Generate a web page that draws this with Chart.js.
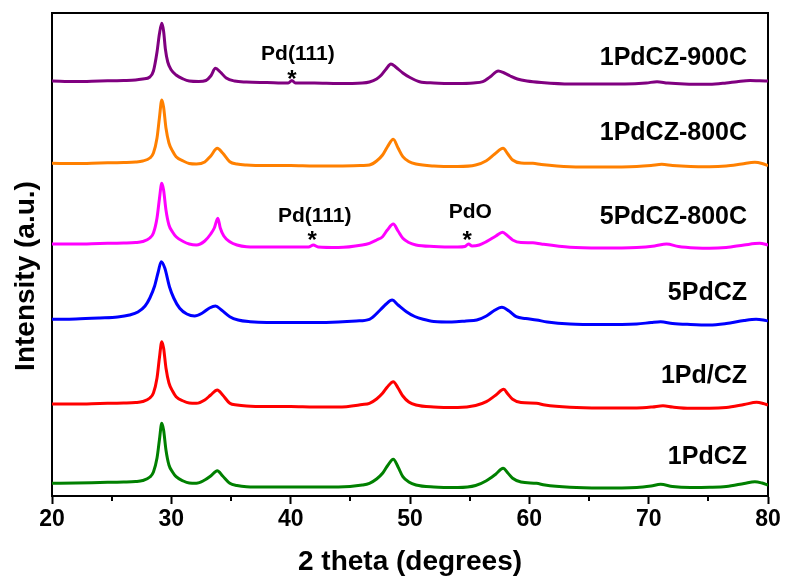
<!DOCTYPE html>
<html>
<head>
<meta charset="utf-8">
<script src="https://cdn.jsdelivr.net/npm/chart.js@4/dist/chart.umd.min.js"></script>
<style>
html,body{margin:0;padding:0;background:#fff;}
#wrap{width:785px;height:576px;position:relative;}
</style>
</head>
<body>
<div id="wrap"><canvas id="c" width="785" height="576"></canvas></div>
<script>
// ---- Data (2theta in degrees, intensity in arbitrary stacked units) ----
const xTicks = [20, 30, 40, 50, 60, 70, 80];
const xMinorTicks = [25, 35, 45, 55, 65, 75];
const sampleNames = ['1PdCZ-900C', '1PdCZ-800C', '5PdCZ-800C', '5PdCZ', '1Pd/CZ', '1PdCZ'];

const s1PdCZ900C = [[20,415],[22,414.5],[24,415],[26,415.5],[27,416],[27.6,417],[28.2,419],[28.5,425],[28.8,444],[29.0,462],[29.2,472.7],[29.35,465],[29.5,447],[29.7,434],[30.0,426],[30.4,421],[31.0,417],[31.5,415],[32.3,414.5],[32.9,415.5],[33.3,420],[33.7,427.7],[34.1,424],[34.6,418],[35.3,415],[36.3,414],[38,413.5],[39.8,413],[40.1,415.5],[40.4,413],[42,413],[44,412.5],[46,413],[46.6,414],[47.2,417],[47.6,421],[48.0,427],[48.4,432],[48.8,429],[49.4,423],[50.0,418.5],[50.8,414.3],[52,413],[54,412.5],[55.3,413],[56.1,414.3],[56.7,419],[57.4,425],[57.9,423],[58.4,420],[59.0,417],[59.8,415],[61,413.5],[63.4,412],[66,412],[68,412],[69.8,413],[70.7,414.3],[71.6,413],[73,412],[75.1,411.7],[76.5,413],[77.4,414.3],[78.5,415.5],[79.3,415.2],[80,415]];

const s1PdCZ800C = [[20,332.7],[22,332.5],[24,333],[26,333.5],[27,334],[27.6,335],[28.2,338],[28.5,343],[28.8,358],[29.0,378],[29.2,396],[29.35,389],[29.55,368],[29.8,353],[30.1,345],[30.4,339.3],[31,335],[31.5,332.5],[32.1,332],[32.8,334],[33.3,340],[33.85,347.7],[34.3,343],[34.9,334.3],[35.5,332],[36.3,331],[38,330.5],[40,330.5],[42,330],[44,330],[46,330.5],[46.6,331],[47.2,335],[47.7,341],[48.1,349],[48.6,356.7],[49,348],[49.4,339.3],[49.9,334.5],[50.5,332],[52,330],[54,329.5],[55.5,331],[56.4,335.3],[57.1,342],[57.8,347.7],[58.2,342],[58.6,336],[59.3,333],[60.3,332.7],[61,331.5],[63.4,329.3],[66,329],[69,329.5],[70.2,330.5],[71.1,331.7],[72,330.5],[73.5,329.5],[75.1,329.3],[76.5,330],[77.8,332],[78.9,333.7],[79.5,332.5],[80,330.3]];

const s5PdCZ800C = [[20,252],[22,252],[24,252.5],[26,253],[27,253.5],[27.6,254.5],[28.2,258],[28.5,263],[28.8,278],[29.0,297],[29.2,312.7],[29.35,306],[29.55,286],[29.8,271],[30.1,264],[30.4,259.3],[31,254.5],[31.5,252],[32.1,251],[32.8,255],[33.3,262],[33.6,268],[33.9,277.7],[34.1,268],[34.4,260],[34.9,254.3],[35.5,251],[36.3,249.3],[38,249],[40,249],[41.5,249],[41.9,251],[42.3,249],[44,248.5],[46,251],[46.6,252.7],[47.2,256],[47.7,259.3],[48.1,266],[48.6,272],[49.0,265],[49.4,257.7],[49.9,253.5],[50.5,251],[52,249.5],[54,249],[54.6,249.5],[54.9,252],[55.2,250],[55.8,251],[56.4,254.3],[57.2,260],[57.75,263.7],[58.2,260],[58.6,256],[59.3,253.5],[60.3,253.3],[61,252],[63.4,248.7],[66,248],[69,248.5],[70.5,250],[71.5,252],[72.5,249.5],[74,248],[75.1,247.7],[76.5,248.5],[78,251],[79.3,252.7],[80,251]];

const s5PdCZ = [[20,176.7],[22,177],[24,178],[25.5,179],[26.5,181],[27.2,184],[27.8,190],[28.2,198],[28.6,210],[28.9,224],[29.15,234.3],[29.45,228],[29.85,209],[30.2,198],[30.7,187.7],[31.3,182],[31.95,180],[32.6,183],[33.2,188],[33.7,190],[34.2,186],[34.9,179.3],[35.6,176],[36.6,174.3],[38,173.5],[40,173.5],[42,173.5],[44,174],[45.5,175],[46.6,176.7],[47.5,186],[48.0,192],[48.5,196],[49.0,191],[49.7,184.3],[50.4,179.5],[51.1,176.7],[52,174.5],[53.5,174],[54.7,175],[55.6,176],[56.4,180],[57.0,185],[57.7,188.7],[58.3,185],[58.9,179.3],[59.7,177.5],[60.6,176],[61.5,174],[63.4,172],[66,171.5],[69,172],[70.2,173.5],[71,174.3],[72,172.5],[73.5,171.5],[75.1,171],[76.5,172.5],[78,175.5],[79,176.7],[79.6,176],[80,175]];

const s1PdSlashCZ = [[20,92],[22,92],[24,92.5],[26,93],[27,93.5],[27.6,94.5],[28.2,98],[28.5,103],[28.8,118],[29.0,138],[29.2,154.3],[29.35,148],[29.55,128],[29.8,113],[30.1,105],[30.4,99.3],[31,95],[31.5,93],[32.1,92.7],[32.8,96],[33.3,101],[33.85,106],[34.3,101],[34.9,92.7],[35.5,91],[36.3,90],[38,89.5],[40,89.5],[42,89],[44,89],[46,91.5],[46.6,92.7],[47.2,97],[47.7,102.7],[48.1,109],[48.6,114.3],[49,108],[49.4,100],[49.9,94],[50.5,91],[52,89],[54,88.5],[55.5,90.5],[56.4,94.3],[57.2,101],[57.85,106.7],[58.2,102],[58.6,96.7],[59.3,93.5],[60.6,92.7],[61.3,91],[63.4,88.7],[66,88],[69,88],[70.3,89],[71.2,90.3],[72,89],[73.5,87.7],[75.1,87.7],[76.5,88.5],[78,91.5],[79.05,93.7],[79.6,92.5],[80,91]];

const s1PdCZ = [[20,12.7],[22,13],[24,13.5],[26,14],[27,14.5],[27.6,15.5],[28.2,19],[28.5,24],[28.8,38],[29.0,56],[29.2,72.7],[29.35,66],[29.55,46],[29.8,31],[30.1,24],[30.4,19.3],[31,15],[31.5,13],[32.1,12.7],[32.8,16],[33.3,20],[33.85,25.3],[34.3,20],[34.9,12.7],[35.5,10.5],[36.3,9.3],[38,9],[40,9],[42,9],[44,9],[46,11],[46.6,12.7],[47.2,17],[47.7,22.7],[48.1,30],[48.6,36.7],[49,29],[49.4,19.3],[49.9,14],[50.5,11],[52,9],[54,8.5],[55.5,10.5],[56.4,15.3],[57.2,22],[57.8,27.7],[58.2,23],[58.6,17.7],[59.3,14],[60.6,12.7],[61.3,11],[63.4,8.7],[66,8],[69,8.5],[70.2,10],[71,11.7],[72,9.5],[73.5,8.5],[75.1,8.7],[76.5,9.5],[78,12.5],[78.9,14.3],[79.5,13],[80,11]];

const seriesList = [s1PdCZ900C, s1PdCZ800C, s5PdCZ800C, s5PdCZ, s1PdSlashCZ, s1PdCZ];
const seriesColors = ['#800080', '#FF8000', '#FF00FF', '#0000FF', '#FF0000', '#008000'];

// Peak annotations: label, 2theta of the star
const peakNotes = [
  {text: 'Pd(111)', deg: 40.1, labelDx: 6, labelY: 52.5, starY: 72.7},
  {text: 'Pd(111)', deg: 41.8, labelDx: 2.5, labelY: 214, starY: 234},
  {text: 'PdO', deg: 54.8, labelDx: 3, labelY: 210, starY: 234}
];
const labelCenters = [56, 131.7, 215, 291.3, 374, 455];

const FONT = '"Liberation Sans", Arial, sans-serif';

const annotPlugin = {
  id: 'annot',
  afterDraw(chart) {
    const ctx = chart.ctx;
    const xs = chart.scales.x;
    const area = chart.chartArea;
    ctx.save();
    // minor ticks
    ctx.strokeStyle = '#000';
    ctx.lineWidth = 2;
    xMinorTicks.forEach(v => {
      const px = Math.round(xs.getPixelForValue(v));
      ctx.beginPath();
      ctx.moveTo(px, area.bottom);
      ctx.lineTo(px, area.bottom + 5);
      ctx.stroke();
    });
    ctx.fillStyle = '#000';
    // sample names
    ctx.font = 'bold 25px ' + FONT;
    ctx.textAlign = 'right';
    ctx.textBaseline = 'alphabetic';
    sampleNames.forEach((n, i) => {
      ctx.fillText(n, 747, labelCenters[i] + 0.358 * 24);
    });
    // peak notes
    ctx.textAlign = 'center';
    peakNotes.forEach(p => {
      const px = xs.getPixelForValue(p.deg);
      ctx.font = 'bold 21px ' + FONT;
      ctx.fillText(p.text, px + p.labelDx, p.labelY + 0.358 * 21);
      ctx.font = 'bold 24px ' + FONT;
      ctx.fillText('*', px, p.starY + 0.58 * 24);
    });
    // y title
    ctx.font = 'bold 28px ' + FONT;
    ctx.translate(33.5, 276);
    ctx.rotate(-Math.PI / 2);
    ctx.textAlign = 'center';
    ctx.fillText('Intensity (a.u.)', 0, 0);
    ctx.restore();
  }
};

new Chart(document.getElementById('c'), {
  type: 'line',
  data: {
    datasets: seriesList.map((s, i) => ({
      label: sampleNames[i],
      data: s.map(p => ({x: p[0], y: p[1]})),
      borderColor: seriesColors[i],
      borderWidth: 3,
      pointRadius: 0,
      fill: false,
      cubicInterpolationMode: 'monotone'
    }))
  },
  options: {
    responsive: false,
    animation: false,
    layout: {padding: {left: 0, right: 17, top: 13, bottom: 0}},
    plugins: {legend: {display: false}, tooltip: {enabled: false}},
    scales: {
      x: {
        type: 'linear', position: 'bottom', min: 20, max: 80,
        afterBuildTicks(s) { s.ticks = xTicks.map(v => ({value: v})); },
        afterFit(s) { s.height = 80; },
        grid: {display: true, drawOnChartArea: false, drawTicks: true, tickLength: 8, tickWidth: 2, tickColor: '#000'},
        border: {display: true, color: '#000', width: 2},
        ticks: {color: '#000', padding: 2, font: {family: FONT, size: 23, weight: 'bold'}, maxRotation: 0},
        title: {display: true, text: '2 theta (degrees)', color: '#000', padding: 0,
                font: {family: FONT, size: 28, weight: 'bold', lineHeight: 1}}
      },
      x2: {
        type: 'linear', position: 'top', min: 20, max: 80,
        afterFit(s) { s.height = 0; },
        grid: {display: false}, ticks: {display: false},
        border: {display: true, color: '#000', width: 2}
      },
      y: {
        type: 'linear', position: 'left', min: 0, max: 483,
        afterFit(s) { s.width = 52; },
        grid: {display: false}, ticks: {display: false},
        border: {display: true, color: '#000', width: 2}
      },
      y2: {
        type: 'linear', position: 'right', min: 0, max: 483,
        afterFit(s) { s.width = 0; },
        grid: {display: false}, ticks: {display: false},
        border: {display: true, color: '#000', width: 2}
      }
    }
  },
  plugins: [annotPlugin]
});
</script>
</body>
</html>
